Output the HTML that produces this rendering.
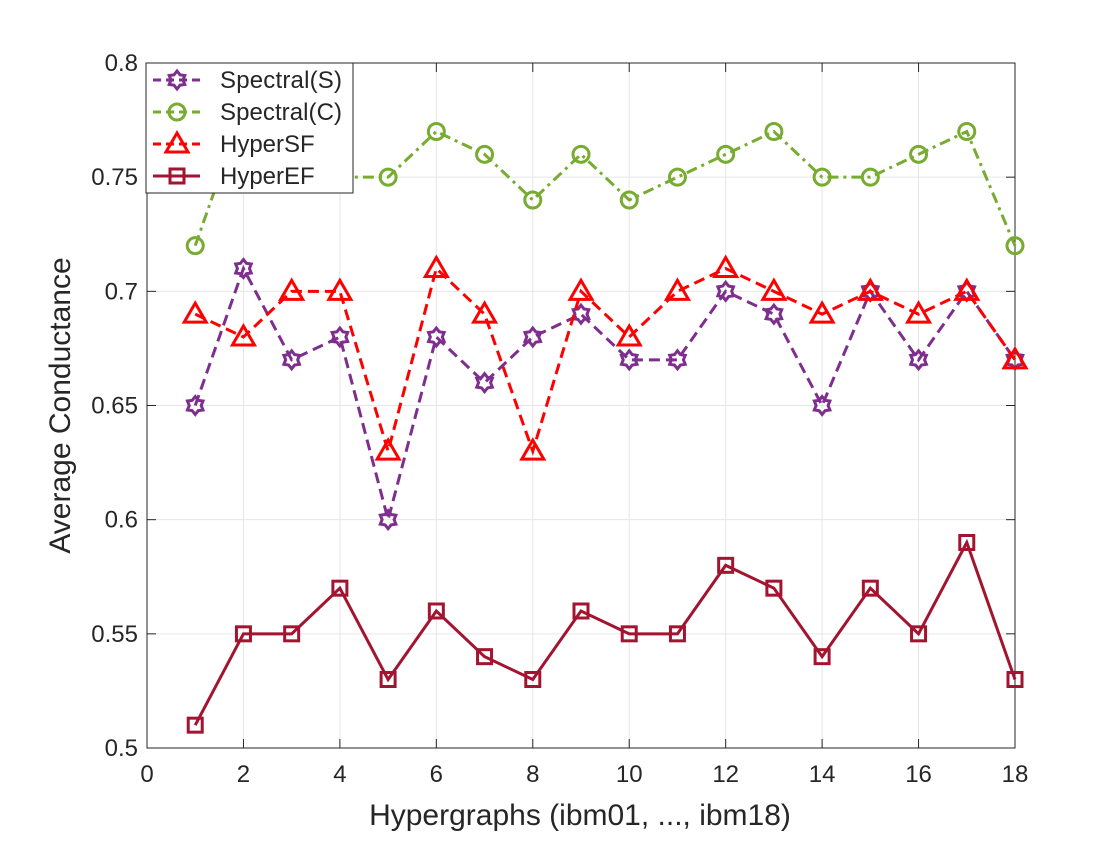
<!DOCTYPE html>
<html><head><meta charset="utf-8"><style>
body{margin:0;background:#fff}
svg text{font-family:"Liberation Sans",Arial,sans-serif;fill:#262626}
</style></head><body>
<svg id="c" width="1120" height="840" viewBox="0 0 1120 840"></svg>
<script>
const xCats=[1,2,3,4,5,6,7,8,9,10,11,12,13,14,15,16,17,18];
const spectralS=[0.65,0.71,0.67,0.68,0.60,0.68,0.66,0.68,0.69,0.67,0.67,0.70,0.69,0.65,0.70,0.67,0.70,0.67];
const spectralC=[0.72,0.78,0.76,0.75,0.75,0.77,0.76,0.74,0.76,0.74,0.75,0.76,0.77,0.75,0.75,0.76,0.77,0.72];
const hyperSF=[0.69,0.68,0.70,0.70,0.63,0.71,0.69,0.63,0.70,0.68,0.70,0.71,0.70,0.69,0.70,0.69,0.70,0.67];
const hyperEF=[0.51,0.55,0.55,0.57,0.53,0.56,0.54,0.53,0.56,0.55,0.55,0.58,0.57,0.54,0.57,0.55,0.59,0.53];
const xTicks=[0,2,4,6,8,10,12,14,16,18];
const yTicks=[0.5,0.55,0.6,0.65,0.7,0.75,0.8];
const yTickLabels=["0.5","0.55","0.6","0.65","0.7","0.75","0.8"];

const L=147,R=1015,T=63,B=748;
const sx=v=>L+(v-0)/18*(R-L);
const sy=v=>B-(v-0.5)/0.3*(B-T);
const svg=document.getElementById('c');
const NS='http://www.w3.org/2000/svg';
function mk(tag,attrs,parent){const e=document.createElementNS(NS,tag);for(const k in attrs)e.setAttribute(k,attrs[k]);(parent||svg).appendChild(e);return e;}

mk('rect',{x:L,y:T,width:R-L,height:B-T,fill:'#fff'});
xTicks.forEach(t=>{const g=mk('line',{x1:sx(t),x2:sx(t),y1:T,y2:B,stroke:'#e6e6e6','stroke-width':1});
});
yTicks.forEach(t=>{const g=mk('line',{x1:L,x2:R,y1:sy(t),y2:sy(t),stroke:'#e6e6e6','stroke-width':1});
});
const box=mk('rect',{x:L,y:T,width:R-L,height:B-T,fill:'none',stroke:'#262626','stroke-width':1});

xTicks.forEach(t=>{
  mk('line',{x1:sx(t),x2:sx(t),y1:B,y2:B-9,stroke:'#262626'});
  mk('line',{x1:sx(t),x2:sx(t),y1:T,y2:T+9,stroke:'#262626'});
  const tx=mk('text',{x:sx(t),y:B+34,'font-size':24,'text-anchor':'middle'});tx.textContent=t;
  
});
yTicks.forEach((t,i)=>{
  mk('line',{x1:L,x2:L+9,y1:sy(t),y2:sy(t),stroke:'#262626'});
  mk('line',{x1:R,x2:R-9,y1:sy(t),y2:sy(t),stroke:'#262626'});
  const tx=mk('text',{x:L-9,y:sy(t)+8,'font-size':24,'text-anchor':'end'});tx.textContent=yTickLabels[i];
  
});
const xt=mk('text',{x:580,y:825,'font-size':30,'text-anchor':'middle'});xt.textContent='Hypergraphs (ibm01, ..., ibm18)';

const yt=mk('text',{x:0,y:0,'font-size':30,'text-anchor':'middle',transform:`translate(70,${(T+B)/2}) rotate(-90)`});yt.textContent='Average Conductance';


function marker(type,x,y,col,g){
  if(type==='circle')mk('circle',{cx:x,cy:y,r:8,fill:'none',stroke:col,'stroke-width':3},g);
  else if(type==='tri')mk('polygon',{points:`${x},${y-11} ${x+11},${y+8} ${x-11},${y+8}`,fill:'none',stroke:col,'stroke-width':3},g);
  else if(type==='sq')mk('rect',{x:x-7,y:y-7,width:14,height:14,fill:'none',stroke:col,'stroke-width':3},g);
  else {let p=[];for(let i=0;i<12;i++){const a=Math.PI*i/6,r=i%2?6:9;p.push((x+r*Math.sin(a))+','+(y-r*Math.cos(a)));}
    mk('polygon',{points:p.join(' '),fill:'none',stroke:col,'stroke-width':3},g);}
}
const series=[
 {name:'Spectral(S)',data:spectralS,col:'#7E2F8E',dash:'11,6',m:'star',id:'spectral-s'},
 {name:'Spectral(C)',data:spectralC,col:'#77AC30',dash:'11,5,3,5',m:'circle',id:'spectral-c'},
 {name:'HyperSF',data:hyperSF,col:'#FF0000',dash:'11,6',m:'tri',id:'hypersf'},
 {name:'HyperEF',data:hyperEF,col:'#A2142F',dash:'',m:'sq',id:'hyperef'}
];
series.forEach(s=>{
  const g=mk('g',{});
  
  const pl=mk('polyline',{points:s.data.map((v,i)=>sx(xCats[i])+','+sy(v)).join(' '),fill:'none',stroke:s.col,'stroke-width':3,'stroke-dasharray':s.dash},g);
  
  s.data.forEach((v,i)=>marker(s.m,sx(xCats[i]),sy(v),s.col,g));
});
const lg=mk('g',{});

mk('rect',{x:146,y:63,width:207,height:130,fill:'#fff',stroke:'#262626','stroke-width':1},lg);
series.forEach((s,i)=>{
  const y=80+i*32;
  const e=mk('g',{},lg);
  
  mk('line',{x1:153,x2:200,y1:y,y2:y,stroke:s.col,'stroke-width':3,'stroke-dasharray':s.dash?'8,5':''},e);
  marker(s.m,177,y,s.col,e);
  const t=mk('text',{x:220,y:y+8,'font-size':24,'textLength':122},e);t.textContent=s.name;
  if(s.name.length<9)t.removeAttribute('textLength');
});
</script>
</body></html>
